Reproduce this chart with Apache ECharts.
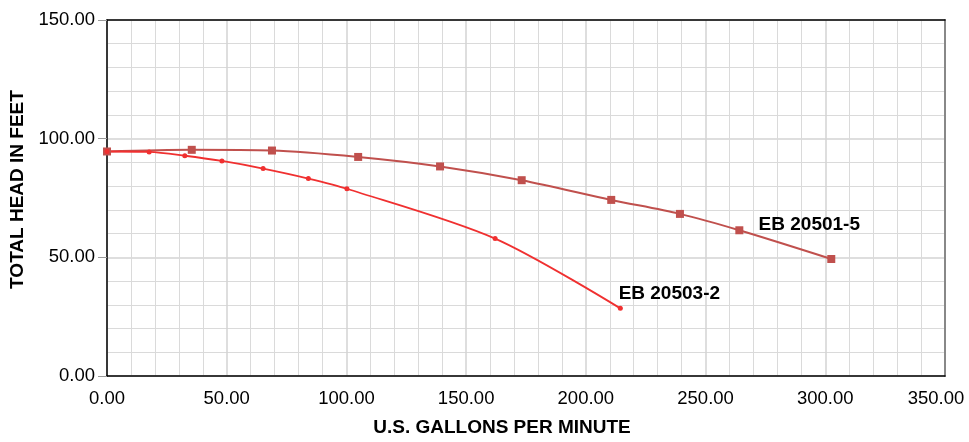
<!DOCTYPE html>
<html>
<head>
<meta charset="utf-8">
<script src="https://cdn.jsdelivr.net/npm/echarts@6/dist/echarts.min.js"></script>
<style>
html,body{margin:0;padding:0;background:#fff;overflow:hidden;}
#chart{width:969px;height:442px;}
</style>
</head>
<body>
<div id="chart"></div>
<script>
// Series EB 20501-5 (squares)
const gpm20501 = [0, 35.4, 68.9, 104.9, 139.1, 173.2, 210.6, 239.3, 264.1, 302.5];
const head20501 = [94.6, 95.3, 95.0, 92.3, 88.3, 82.5, 74.2, 68.3, 61.4, 49.3];
// Series EB 20503-2 (dots)
const gpm20503 = [0, 17.6, 32.5, 48.0, 65.2, 84.1, 100.2, 162.1, 214.4];
const head20503 = [94.6, 94.4, 92.8, 90.6, 87.4, 83.2, 78.9, 57.9, 28.5];
const seriesNames = ['EB 20501-5', 'EB 20503-2'];
const xTitle = 'U.S. GALLONS PER MINUTE';
const yTitle = 'TOTAL HEAD IN FEET';

const FONT = '"Liberation Sans", Arial, Helvetica, sans-serif';

function pts(xs, ys, name, offset) {
  return xs.map((x, i) => {
    const d = { value: [x, ys[i]] };
    if (i === xs.length - 1) {
      d.label = {
        show: true, formatter: name, position: 'top', offset: offset,
        fontFamily: FONT, fontWeight: 'bold', fontSize: 19, color: '#000'
      };
    }
    return d;
  });
}

const chart = echarts.init(document.getElementById('chart'));
chart.setOption({
  animation: false,
  backgroundColor: '#fff',
  grid: { left: 107, top: 20, width: 838, height: 361, containLabel: false },
  xAxis: [{
    type: 'value', min: 0, max: 350, interval: 50,
    name: xTitle, nameLocation: 'middle', nameGap: 42,
    nameTextStyle: { fontFamily: FONT, fontWeight: 'bold', fontSize: 19, color: '#000', padding: [0, 48, 0, 0] },
    axisLine: { show: true, lineStyle: { color: '#000', width: 1.5 } },
    axisTick: { show: false },
    axisLabel: {
      fontFamily: FONT, fontSize: 18.5, color: '#000', margin: 13,
      formatter: v => v === 350 ? '{last|' + v.toFixed(2) + '}' : v.toFixed(2),
      rich: { last: { fontFamily: FONT, fontSize: 18.5, color: '#000', padding: [0, 18, 0, 0] } }
    },
    splitLine: { show: true, lineStyle: { color: '#d3d3d3', width: 1.5 } },
    minorTick: { show: false, splitNumber: 5 },
    minorSplitLine: { show: true, lineStyle: { color: '#dadada', width: 1 } }
  }, {
    type: 'value', min: 0, max: 350, position: 'top',
    axisLine: { show: true, onZero: false, lineStyle: { color: '#000', width: 1.5 } },
    axisTick: { show: false }, axisLabel: { show: false }, splitLine: { show: false }
  }],
  yAxis: [{
    type: 'value', min: 0, max: 150, interval: 50,
    name: yTitle, nameLocation: 'middle', nameGap: 76, nameRotate: 90,
    nameTextStyle: { fontFamily: FONT, fontWeight: 'bold', fontSize: 19, color: '#000', padding: [0, 0, 0, 17] },
    axisLine: { show: true, lineStyle: { color: '#000', width: 1.5 } },
    axisTick: { show: true, inside: false, length: 9, lineStyle: { color: '#999' } },
    axisLabel: { fontFamily: FONT, fontSize: 18.5, color: '#000', margin: 12, formatter: v => v.toFixed(2) },
    splitLine: { show: true, lineStyle: { color: '#d3d3d3', width: 1.5 } },
    minorTick: { show: false, splitNumber: 5 },
    minorSplitLine: { show: true, lineStyle: { color: '#dadada', width: 1 } }
  }, {
    type: 'value', min: 0, max: 150, position: 'right',
    axisLine: { show: true, onZero: false, lineStyle: { color: '#888', width: 2 } },
    axisTick: { show: false }, axisLabel: { show: false }, splitLine: { show: false }
  }],
  series: [{
    name: seriesNames[0], type: 'line', smooth: 0.3,
    symbol: 'rect', symbolSize: 8,
    itemStyle: { color: '#c0504d' },
    lineStyle: { color: '#c0504d', width: 2 },
    data: pts(gpm20501, head20501, seriesNames[0], [-22, -16])
  }, {
    name: seriesNames[1], type: 'line', smooth: 0.3,
    symbol: 'circle', symbolSize: 5,
    itemStyle: { color: '#f03030' },
    lineStyle: { color: '#f03030', width: 1.8 },
    data: pts(gpm20503, head20503, seriesNames[1], [49, 2])
  }]
});
</script>
</body>
</html>
